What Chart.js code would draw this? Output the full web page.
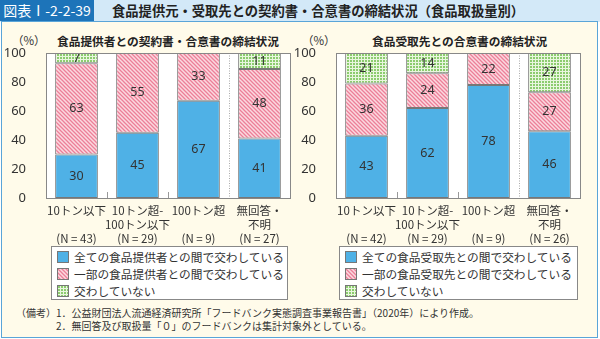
<!DOCTYPE html>
<html>
<head>
<meta charset="utf-8">
<script src="https://cdn.jsdelivr.net/npm/chart.js@4.4.0/dist/chart.umd.min.js"></script>
<style>
  body { margin: 0; width: 600px; height: 339px; overflow: hidden; background: #fff;
         font-family: "Noto Sans CJK JP", "Noto Sans", sans-serif; color: #333; }
  #head { position: absolute; left: 0; top: 0; width: 600px; height: 22px; background: #d3e9f8; }
  #tag { position: absolute; left: 0; top: 0; width: 94px; height: 21px; background: #1d74b9;
         color: #fff; font-size: 14px; line-height: 21px; text-align: center; }
  #htitle { position: absolute; left: 112px; top: 0; font-size: 13.3px; line-height: 21px; font-weight: bold; color: #222; }
  #panel { position: absolute; left: 1px; top: 21px; width: 595px; height: 315px; background: #fffbea;
           border: 1.5px solid #5aa5d8; }
  canvas { position: absolute; }
  .ct { position: absolute; font-size: 11.7px; font-weight: bold; color: #222; white-space: nowrap; }
  .pct { position: absolute; font-size: 11.5px; color: #333; }
  .legend { position: absolute; background: #fff; border: 1px solid #888; font-size: 11.7px; color: #333; padding-top: 1px; }
  .legend div { height: 17px; line-height: 17px; padding-left: 5px; white-space: nowrap; }
  .sw { display: inline-block; width: 10px; height: 10px; border: 1px solid #777; margin-right: 5px; vertical-align: -1px; }
  .note { position: absolute; font-size: 10px; color: #333; white-space: nowrap; }
</style>
</head>
<body>
<div id="head"><div id="tag">図表Ⅰ-2-2-39</div><div id="htitle">食品提供元・受取先との契約書・合意書の締結状況（食品取扱量別）</div></div>
<div id="panel"></div>

<div class="pct" style="left:12px;top:32px">（%）</div>
<div class="ct" id="t1" style="left:57px;top:32px">食品提供者との契約書・合意書の締結状況</div>
<div class="pct" style="left:302px;top:32px">（%）</div>
<div class="ct" id="t2" style="left:372px;top:32px">食品受取先との合意書の締結状況</div>

<canvas id="c1" width="300" height="215" style="left:0;top:30px"></canvas>
<canvas id="c2" width="300" height="215" style="left:290px;top:30px"></canvas>

<div class="legend" id="lg1" style="left:51px;top:246px;width:235px;height:51px"></div>
<div class="legend" id="lg2" style="left:339px;top:246px;width:237px;height:51px"></div>

<div class="note" style="left:16px;top:305px">（備考）</div>
<div class="note" style="left:56px;top:305px">1．公益財団法人流通経済研究所「フードバンク実態調査事業報告書」（2020年）により作成。</div>
<div class="note" style="left:56px;top:318px">2．無回答及び取扱量「０」のフードバンクは集計対象外としている。</div>

<script>
const labels1 = [['10トン以下', '', '(N = 43)'], ['10トン超-', '100トン以下', '(N = 29)'], ['100トン超', '', '(N = 9)'], ['無回答・', '不明', '(N = 27)']];
const labels2 = [['10トン以下', '', '(N = 42)'], ['10トン超-', '100トン以下', '(N = 29)'], ['100トン超', '', '(N = 9)'], ['無回答・', '不明', '(N = 26)']];

const allSupply = [30, 45, 67, 41];
const partSupply = [63, 55, 33, 48];
const noneSupply = [7, 0, 0, 11];

const allRecv = [43, 62, 78, 46];
const partRecv = [36, 24, 22, 27];
const noneRecv = [21, 14, 0, 27];

const legend1 = ['全ての食品提供者との間で交わしている', '一部の食品提供者との間で交わしている', '交わしていない'];
const legend2 = ['全ての食品受取先との間で交わしている', '一部の食品受取先との間で交わしている', '交わしていない'];

const yTicks = [0, 20, 40, 60, 80, 100];

// patterns
function makeHatch() {
    const c = document.createElement('canvas');
    c.width = 4; c.height = 4;
    const g = c.getContext('2d');
    g.fillStyle = '#fbd9e0';
    g.fillRect(0, 0, 4, 4);
    g.strokeStyle = '#ec7f98';
    g.lineWidth = 1.3;
    g.beginPath();
    g.moveTo(-1, -1); g.lineTo(5, 5);
    g.moveTo(-1, 3); g.lineTo(1, 5);
    g.moveTo(3, -1); g.lineTo(5, 1);
    g.stroke();
    return c;
}
function makeGrid() {
    const c = document.createElement('canvas');
    c.width = 3; c.height = 3;
    const g = c.getContext('2d');
    g.fillStyle = '#e9f6df';
    g.fillRect(0, 0, 3, 3);
    g.fillStyle = '#8ccc6f';
    g.fillRect(0, 0, 2, 2);
    return c;
}
const hatchCanvas = makeHatch();
const gridCanvas = makeGrid();
const ctxTmp = document.createElement('canvas').getContext('2d');
const pink = ctxTmp.createPattern(hatchCanvas, 'repeat');
const green = ctxTmp.createPattern(gridCanvas, 'repeat');
const blue = '#4fb1e6';

// white plot background, boundary ticks, dotted divider
const plotDeco = {
    id: 'plotDeco',
    beforeDatasetsDraw(chart) {
        const a = chart.chartArea, ctx = chart.ctx, x = chart.scales.x;
        ctx.save();
        ctx.fillStyle = '#fff';
        ctx.fillRect(a.left, a.top, a.right - a.left, a.bottom - a.top);
        ctx.strokeStyle = '#999';
        ctx.lineWidth = 1;
        for (let i = 1; i <= 2; i++) {
            const bx = Math.round((x.getPixelForValue(i - 1) + x.getPixelForValue(i)) / 2) + 0.5;
            ctx.beginPath(); ctx.moveTo(bx, a.bottom); ctx.lineTo(bx, a.bottom - 6); ctx.stroke();
        }
        const dx = Math.round((x.getPixelForValue(2) + x.getPixelForValue(3)) / 2) + 0.5;
        ctx.strokeStyle = '#aaa';
        ctx.setLineDash([1, 1.5]);
        ctx.beginPath(); ctx.moveTo(dx, a.top); ctx.lineTo(dx, a.bottom); ctx.stroke();
        ctx.restore();
    },
    afterDraw(chart) {
        const a = chart.chartArea, ctx = chart.ctx;
        ctx.save();
        ctx.strokeStyle = '#888';
        ctx.lineWidth = 1;
        ctx.strokeRect(Math.round(a.left) + 0.5, Math.round(a.top) + 0.5, Math.round(a.right - a.left), Math.round(a.bottom - a.top));
        ctx.restore();
    }
};

// numbers inside segments
const segLabels = {
    id: 'segLabels',
    afterDatasetsDraw(chart) {
        const ctx = chart.ctx;
        ctx.save();
        ctx.font = '12.5px "Noto Sans", sans-serif';
        ctx.fillStyle = '#333';
        ctx.textAlign = 'center';
        ctx.textBaseline = 'middle';
        chart.data.datasets.forEach((ds, i) => {
            chart.getDatasetMeta(i).data.forEach((bar, j) => {
                const v = ds.data[j];
                if (!v) return;
                ctx.fillText(String(v), bar.x, (bar.y + bar.base) / 2);
            });
        });
        ctx.restore();
    }
};

function makeChart(id, labels, all, part, none, names) {
    return new Chart(document.getElementById(id), {
        type: 'bar',
        data: {
            labels: labels,
            datasets: [
                { label: names[0], data: all, backgroundColor: blue },
                { label: names[1], data: part, backgroundColor: pink },
                { label: names[2], data: none, backgroundColor: green }
            ]
        },
        options: {
            responsive: false,
            animation: false,
            events: [],
            layout: { padding: { left: 0, right: 10, top: 23, bottom: 0 } },
            datasets: { bar: { categoryPercentage: 1, barPercentage: 0.7, borderColor: '#777', borderWidth: 1, borderSkipped: false } },
            plugins: { legend: { display: false }, tooltip: { enabled: false } },
            scales: {
                x: {
                    stacked: true,
                    grid: { display: false },
                    border: { display: false },
                    ticks: { color: '#333', font: { family: '"Noto Sans CJK JP", sans-serif', size: 11.5, lineHeight: 1.25 }, padding: -3, maxRotation: 0, autoSkip: false },
                    afterFit(s) { s.height = 47; }
                },
                y: {
                    stacked: true,
                    min: 0, max: 100,
                    grid: { display: false },
                    border: { display: false },
                    afterBuildTicks(s) { s.ticks = yTicks.map(v => ({ value: v })); },
                    ticks: { color: '#333', font: { family: '"Noto Sans", sans-serif', size: 13 }, padding: 12 },
                    afterFit(s) { s.width = 46; }
                }
            }
        },
        plugins: [plotDeco, segLabels]
    });
}

makeChart('c1', labels1, allSupply, partSupply, noneSupply, legend1);
makeChart('c2', labels2, allRecv, partRecv, noneRecv, legend2);

function fillLegend(id, names) {
    const el = document.getElementById(id);
    const sw = [
        'background:' + blue,
        'background:url(' + hatchCanvas.toDataURL() + ')',
        'background:url(' + gridCanvas.toDataURL() + ')'
    ];
    names.forEach((n, i) => {
        const row = document.createElement('div');
        row.innerHTML = '<span class="sw" style="' + sw[i] + '"></span>' + n;
        el.appendChild(row);
    });
}
fillLegend('lg1', legend1);
fillLegend('lg2', legend2);
</script>
</body>
</html>
